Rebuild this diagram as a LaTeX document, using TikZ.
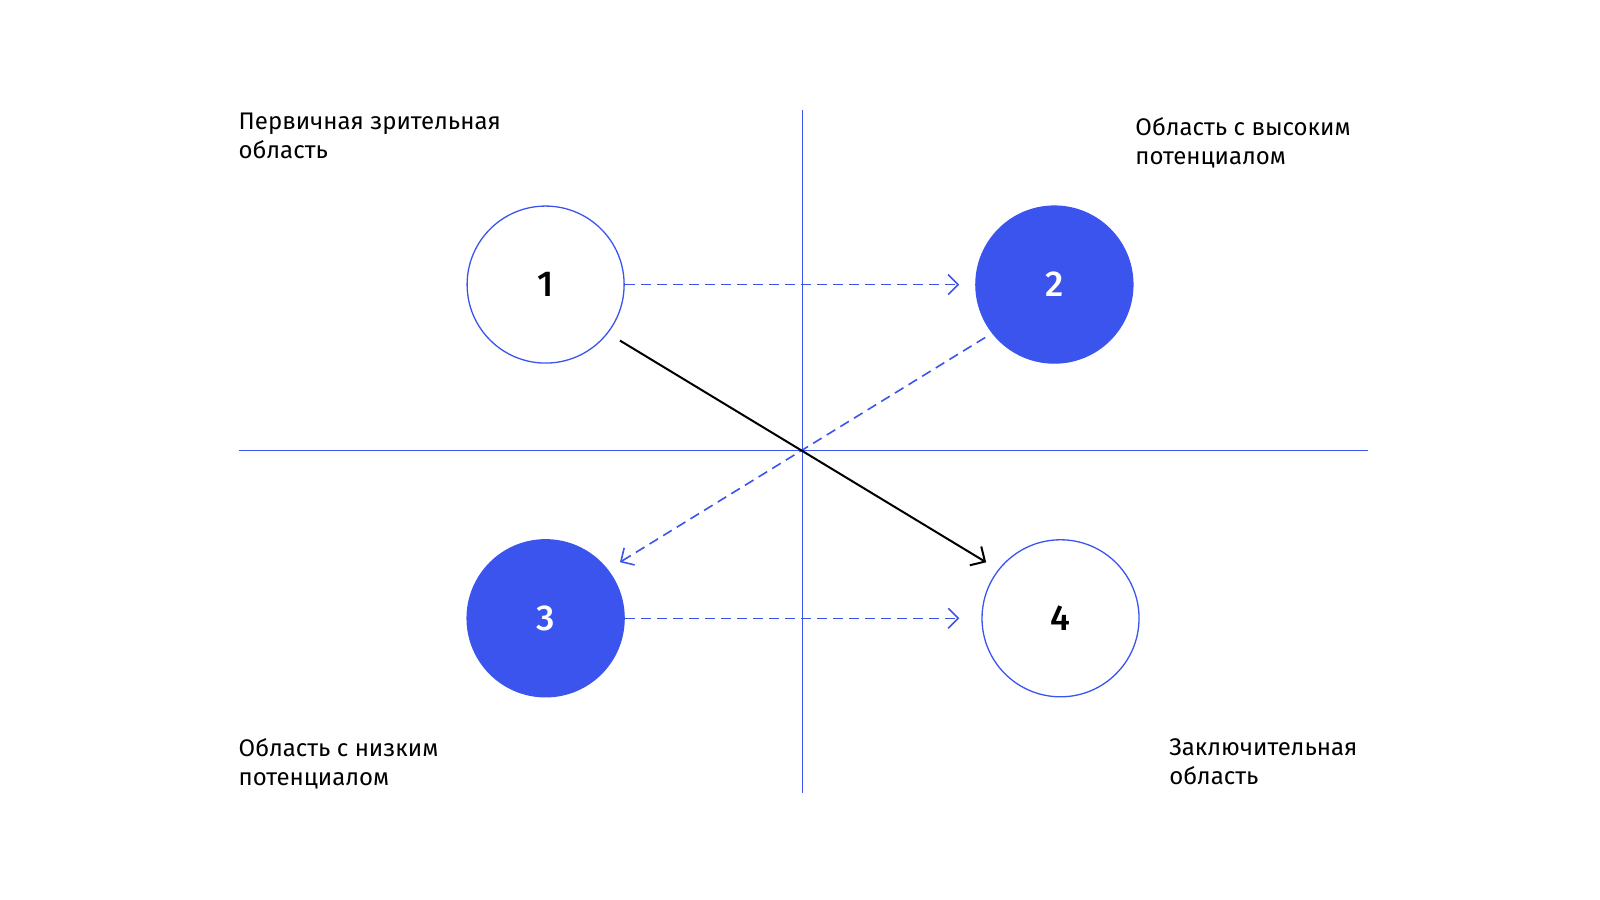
\documentclass[tikz,border=0pt]{standalone}
\usepackage{fontspec}
\setmainfont{Fira Sans}
\newfontfamily\numfont{Fira Sans Medium}
\usetikzlibrary{arrows.meta}
\definecolor{bl}{HTML}{3B54EE}
\begin{document}
\begin{tikzpicture}[x=1.0235pt,y=-1.0235pt,
  circ/.style={circle,draw=bl,line width=1.3pt,minimum size=157pt,inner sep=0pt,font=\numfont\fontsize{36}{40}\selectfont},
  axis/.style={bl,line width=1.5pt},
  dsh/.style={bl,line width=1.6pt,dash pattern=on 10pt off 6pt,-{Straight Barb[length=10pt,width=20pt,line width=1.6pt]}},
  lbl/.style={anchor=north west,align=left,inner sep=0pt,font=\fontsize{24}{29}\selectfont}]
\useasboundingbox (0,0) rectangle (1563,879);
\draw[axis] (784,107) coordinate (vt) -- (784,775) coordinate (vb);
\draw[axis] (233,440) coordinate (hl) -- (1336,440) coordinate (hr);
\node[circ] (c1) at (533,278) {1};
\node[circ,fill=bl,text=white] (c2) at (1030,278) {2};
\node[circ,fill=bl,text=white] (c3) at (533,604) {3};
\node[circ] (c4) at (1036,604) {4};
\draw[dsh,shorten >=16pt] (c1.east) -- (c2.west);
\draw[dsh,shorten >=22pt] (c3.east) -- (c4.west);
\draw[dsh,shorten <=8pt,shorten >=14pt] (c2.-142) -- (c3.38);
\draw[line width=2pt,shorten <=14pt,shorten >=14pt,-{Straight Barb[length=11pt,width=22pt,line width=2pt]}] (c1.-38) -- (c4.142);
\node[lbl] (t1) at (233,110) {Первичная зрительная\\область};
\node[lbl] (t2) at (1109,115) {Область с высоким\\потенциалом};
\node[lbl] (t3) at (233,721) {Область с низким\\потенциалом};
\node[lbl] (t4) at (1142,721) {Заключительная\\область};
\end{tikzpicture}
\end{document}
